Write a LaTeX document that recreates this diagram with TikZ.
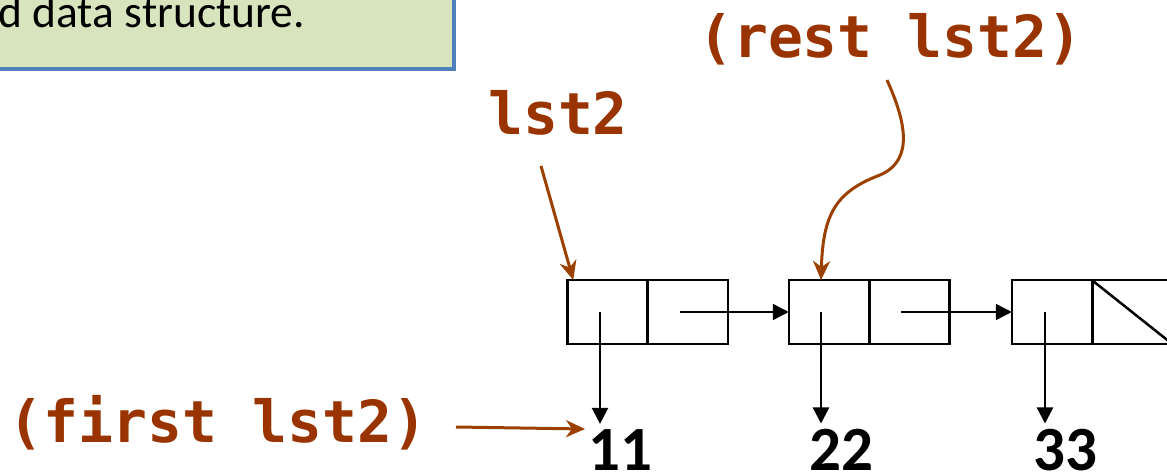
\documentclass[tikz,border=0pt]{standalone}
\usepackage{fontspec}
\setmainfont{Carlito}
\newfontfamily\codefont{DejaVu Sans Mono}
\usetikzlibrary{arrows.meta}
\definecolor{rust}{HTML}{993300}
\definecolor{rustarrow}{HTML}{9C4000}
\definecolor{notefill}{HTML}{D7E4BD}
\definecolor{noteblue}{HTML}{4F81BD}
\begin{document}
\begin{tikzpicture}[x=1pt,y=-1pt,
  cell/.style={draw=black, line width=2.5pt, minimum width=80.5pt, minimum height=64pt, inner sep=0pt, outer sep=0pt},
  ptr/.style={line width=2.4pt, -{Triangle[length=16pt,width=16pt]}},
  codelabel/.style={text=rust, font=\codefont\bfseries\fontsize{58}{60}\selectfont, inner sep=0pt, anchor=base west},
  notearrow/.style={draw=rustarrow, line width=3pt, -{Stealth[length=19pt,width=17pt,inset=6pt]}},
  num/.style={font=\bfseries\fontsize{63}{65}\selectfont, inner sep=0pt, anchor=base},
  notebox/.style={draw=noteblue, fill=notefill, line width=4pt}]
\useasboundingbox (0,0) rectangle (1167,476);
\clip (0,0) rectangle (1167,476);
% note box
\draw[notebox] (-10,-10) rectangle (454,69);
\node[anchor=base east, inner sep=0pt, font=\fontsize{45.5}{50}\selectfont] (notetext) at (305,28) {d data structure.};
% cons cells
\node[cell] (c1a) at (607.5,312) {};
\node[cell] (c1b) at (687.5,312) {};
\node[cell] (c2a) at (829,312) {};
\node[cell] (c2b) at (909,312) {};
\node[cell] (c3a) at (1052,312) {};
\node[cell] (c3b) at (1132,312) {};
\draw[line width=2.5pt] (c3b.north west) -- (c3b.south east);
% values
\node[num] (n11) at (620,470) {11};
\node[num] (n22) at (841,470) {22};
\node[num] (n33) at (1065,470) {33};
% pointer origins
\coordinate (p1) at (600,312);
\coordinate (p2) at (821,312);
\coordinate (p3) at (1045,312);
\coordinate (q1) at (680,312);
\coordinate (q2) at (901,312);
\draw[ptr, shorten >=5pt] (p1) -- (p1 |- n11.north);
\draw[ptr, shorten >=5pt] (p2) -- (p2 |- n22.north);
\draw[ptr, shorten >=5pt] (p3) -- (p3 |- n33.north);
\draw[ptr] (q1) -- (c2a.west);
\draw[ptr] (q2) -- (c3a.west);
% labels
\node[codelabel] (lst) at (488,135) {lst2};
\node[codelabel] (rest) at (698,58) {(rest lst2)};
\node[codelabel] (first) at (8,442) {(first lst2)};
\coordinate (a1) at (541,166);
\coordinate (a2) at (887,80);
\coordinate (a3) at (456,427);
\coordinate (b3) at (585,429);
\draw[notearrow] (a1) -- ([xshift=6pt]c1a.north west);
\draw[notearrow] (a2) .. controls (905,120) and (915,160) .. (880,175) .. controls (835,192) and (823,215) .. (c2a.north -| p2);
\draw[notearrow] (a3) -- (b3);
\end{tikzpicture}
\end{document}
